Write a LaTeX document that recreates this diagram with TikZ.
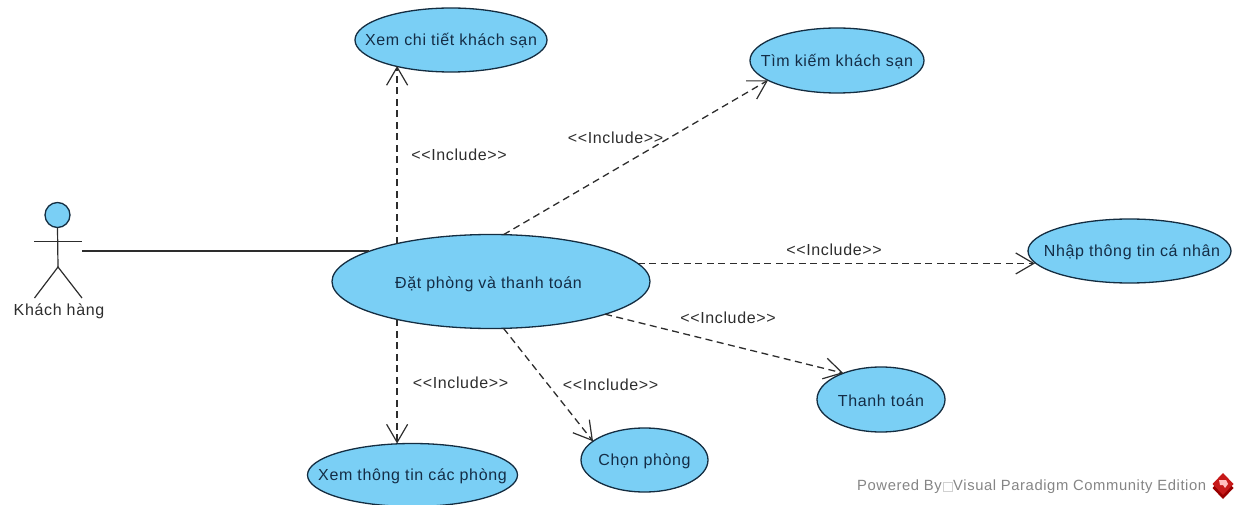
\documentclass[tikz,border=0pt]{standalone}
\usepackage{fontspec}
\setmainfont[LetterSpace=4]{Liberation Sans}
\usetikzlibrary{shapes.geometric,arrows.meta}
\definecolor{ucfill}{RGB}{122,207,245}
\definecolor{ucline}{RGB}{20,45,65}
\definecolor{txt}{RGB}{45,45,45}
\definecolor{uctxt}{RGB}{20,45,70}
\tikzset{
  x=1pt,y=-1pt,
  usecase/.style={ellipse,draw=ucline,line width=1.3pt,fill=ucfill,inner sep=0pt,outer sep=0pt,anchor=center},
  uctext/.style={font=\fontsize{16}{18}\selectfont,text=uctxt,yshift=-1pt},
  inc/.style={draw=txt,line width=1.3pt,dash pattern=on 7pt off 4.5pt,-{Straight Barb[length=18pt,width=21pt,line width=1.2pt]}},
  lab/.style={font=\fontsize{16}{18}\selectfont,text=txt,inner sep=0pt},
  limb/.style={draw=txt,line width=1.2pt}
}
\begin{document}
\begin{tikzpicture}
\useasboundingbox (0,0) rectangle (1245,505);
\node[usecase,minimum width=192pt,minimum height=64pt,label={[uctext]center:Xem chi tiết khách sạn}] (xem) at (451,40) {};
\node[usecase,minimum width=174pt,minimum height=65pt,label={[uctext]center:Tìm kiếm khách sạn}] (tim) at (837,60.5) {};
\node[usecase,minimum width=318pt,minimum height=94pt,label={[uctext,xshift=-2.5pt,yshift=-1.5pt]center:Đặt phòng và thanh toán}] (main) at (491,281.5) {};
\node[usecase,minimum width=203pt,minimum height=64pt,label={[uctext,xshift=2.5pt]center:Nhập thông tin cá nhân}] (nhap) at (1129.5,251) {};
\node[usecase,minimum width=128pt,minimum height=65pt,label={[uctext]center:Thanh toán}] (tt) at (881,399.5) {};
\node[usecase,minimum width=127pt,minimum height=64pt,label={[uctext]center:Chọn phòng}] (chon) at (644.5,460) {};
\node[usecase,minimum width=210pt,minimum height=63pt,label={[uctext]center:Xem thông tin các phòng}] (ttphong) at (412.5,475) {};
% actor
\node[circle,draw=ucline,line width=1.3pt,fill=ucfill,minimum size=25pt,inner sep=0pt,outer sep=0pt] (head) at (57.5,215) {};
\coordinate (hip) at (58,267);
\coordinate (armL) at (34,241.7);
\coordinate (armR) at (82,241.7);
\coordinate (footL) at (34.5,298);
\coordinate (footR) at (82,298);
\coordinate (actorhand) at (82,251);
\draw[limb] (head.south) -- (hip);
\draw[limb] (armL) -- (armR);
\draw[limb] (footL) -- (hip) -- (footR);
\node[lab] (actorname) at (59,311) {Khách hàng};
\draw[draw=txt,line width=1.4pt] (actorhand) -- (actorhand -| main.166.2);
\draw[inc] (main.158.75) -- (main.158.75 |- xem.205.2);
\draw[inc] (main.75.6) -- (tim.196.9);
\draw[inc] (main.7) -- (main.7 -| nhap.187.3);
\draw[inc] (main.-16.65) -- (tt.145.8);
\draw[inc] (main.-75.5) -- (chon.160.1);
\draw[inc] (main.202.7) -- (main.202.7 |- ttphong.north);
\node[lab] (l1) at (459,155) {<{}<Include>{}>};
\node[lab] (l2) at (615.5,138) {<{}<Include>{}>};
\node[lab] (l3) at (834,250) {<{}<Include>{}>};
\node[lab] (l4) at (728,318) {<{}<Include>{}>};
\node[lab] (l5) at (610.5,385) {<{}<Include>{}>};
\node[lab] (l6) at (460.5,383) {<{}<Include>{}>};
\node[font=\fontsize{14.8}{16}\selectfont,text=black!48,inner sep=0pt,anchor=west] (pw) at (857,486.5) {Powered By};
\node[font=\fontsize{14.8}{16}\selectfont,text=black!48,inner sep=0pt,anchor=west] (vp) at (953,486.5) {Visual Paradigm Community Edition};
\draw[black!18,line width=0.6pt] (943,482) rectangle (952,491);
\fill[red!60!black] (1212.5,488) -- (1223,477) -- (1233.5,488) -- (1223,499) -- cycle;
\fill[red!75!black!90] (1212.5,484) -- (1223,473) -- (1233.5,484) -- (1223,495) -- cycle;
\fill[white!75!red] (1219,480) -- (1226,480) -- (1228,484) -- (1225,488) -- (1223,485) -- (1220,485) -- cycle;
\end{tikzpicture}
\end{document}
